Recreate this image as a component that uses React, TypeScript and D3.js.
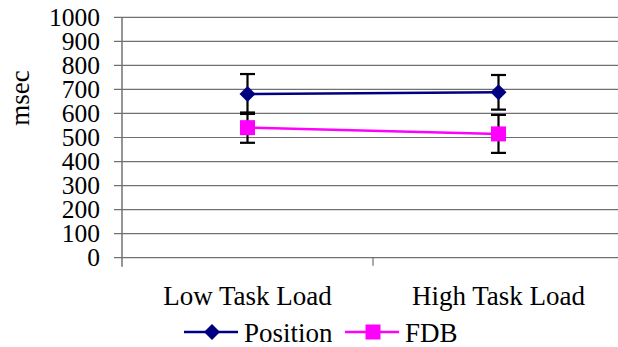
import React from "react";
import * as d3 from "d3";

const categories = ["Low Task Load", "High Task Load"];
const seriesNames = ["Position", "FDB"];
const positionMean = [681, 688];
const positionErr = [83, 72];
const fdbMean = [541, 515];
const fdbErr = [63, 79];
const yTicks = [0, 100, 200, 300, 400, 500, 600, 700, 800, 900, 1000];

const W = 618, H = 347;
const left = 122, right = 624, top = 17.3, bottom = 257.7;
const colors = ["#000080", "#FF00FF"];
const SERIF = "Liberation Serif";

export default function App() {
  const x = d3.scaleBand().domain(categories).range([left, right]).padding(0);
  const y = d3.scaleLinear().domain([0, 1000]).range([bottom, top]);
  const cx = (c: string) => (x(c) as number) + x.bandwidth() / 2;
  const series = [
    { name: seriesNames[0], mean: positionMean, err: positionErr, color: colors[0], shape: "diamond" },
    { name: seriesNames[1], mean: fdbMean, err: fdbErr, color: colors[1], shape: "square" },
  ];
  const line = d3.line<number>().x((_, i) => cx(categories[i])).y((d) => y(d));
  const marker = (shape: string, px: number, py: number, color: string, key?: string) =>
    shape === "diamond" ? (
      <path key={key} d={`M${px},${py - 8}L${px + 8},${py}L${px},${py + 8}L${px - 8},${py}Z`} fill={color} />
    ) : (
      <rect key={key} x={px - 7.5} y={py - 7.5} width={15} height={15} fill={color} />
    );
  return (
    <svg width={W} height={H} style={{ position: "absolute", left: 0, top: 0 }}>
      <rect width={W} height={H} fill="#fff" />
      {yTicks.map((t) => (
        <g key={t}>
          <line x1={114} x2={right} y1={y(t)} y2={y(t)} stroke="#707070" strokeWidth={1.2} />
          <text x={100} y={y(t) + 8.5} textAnchor="end" style={{ fontFamily: SERIF }} fontSize={25.5} fill="#000">
            {t}
          </text>
        </g>
      ))}
      <line x1={left} x2={left} y1={top} y2={bottom + 9} stroke="#707070" strokeWidth={1.5} />
      {categories.map((c) => (
        <line key={c} x1={(x(c) as number) + x.bandwidth()} x2={(x(c) as number) + x.bandwidth()} y1={bottom} y2={bottom + 8} stroke="#707070" strokeWidth={1.2} />
      ))}
      <text transform={`translate(29,98) rotate(-90)`} textAnchor="middle" style={{ fontFamily: SERIF }} fontSize={27}>
        msec
      </text>
      {categories.map((c) => (
        <text key={c} x={cx(c)} y={305} textAnchor="middle" style={{ fontFamily: SERIF }} fontSize={27}>
          {c}
        </text>
      ))}
      {series.map((s) => (
        <g key={s.name}>
          <path d={line(s.mean) || ""} fill="none" stroke={s.color} strokeWidth={2.5} />
          {s.mean.map((m, i) => {
            const px = cx(categories[i]);
            return (
              <g key={i} stroke="#000" strokeWidth={2.2}>
                <line x1={px} x2={px} y1={y(m + s.err[i])} y2={y(m - s.err[i])} />
                <line x1={px - 7.5} x2={px + 7.5} y1={y(m + s.err[i])} y2={y(m + s.err[i])} />
                <line x1={px - 7.5} x2={px + 7.5} y1={y(m - s.err[i])} y2={y(m - s.err[i])} />
              </g>
            );
          })}
          {s.mean.map((m, i) => marker(s.shape, cx(categories[i]), y(m), s.color, String(i)))}
        </g>
      ))}
      {series.map((s, i) => {
        const lx = i === 0 ? 184 : 345;
        return (
          <g key={s.name}>
            <line x1={lx} x2={lx + 54} y1={332} y2={332} stroke={s.color} strokeWidth={2.5} />
            {marker(s.shape, lx + 28, 332, s.color)}
            <text x={lx + 60} y={342} style={{ fontFamily: SERIF }} fontSize={27}>
              {s.name}
            </text>
          </g>
        );
      })}
    </svg>
  );
}
